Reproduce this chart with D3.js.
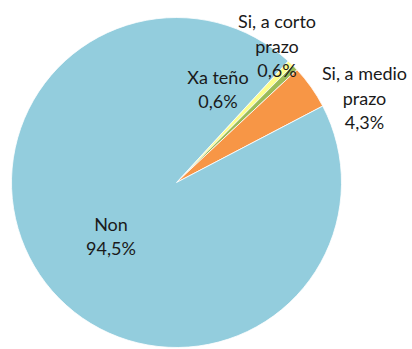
<!DOCTYPE html>
<html>
<head>
<meta charset="utf-8">
<script src="https://cdn.jsdelivr.net/npm/d3@7"></script>
<style>
  html, body { margin: 0; padding: 0; background: #fff; }
  svg { display: block; }
  text { font-family: Lato, "Liberation Sans", sans-serif; font-size: 18px; fill: #1a1a1a; }
</style>
</head>
<body>
<svg id="chart" width="412" height="349"></svg>
<script>
// Answers, in drawing order (clockwise from the first slice)
const categories = ["Xa teño", "Si, a corto prazo", "Si, a medio prazo", "Non"];
const shares = [0.6, 0.6, 4.3, 94.5];
const shareLabels = ["0,6%", "0,6%", "4,3%", "94,5%"];
const colors = ["#FFFF8C", "#9BBB59", "#F79646", "#93CDDD"];

// Label blocks: lines of each label and the offset of the block centre from the pie centre
const labelLines = [
  ["Xa teño", "0,6%"],
  ["Si, a corto", "prazo", "0,6%"],
  ["Si, a medio", "prazo", "4,3%"],
  ["Non", "94,5%"]
];
const labelOffsets = [[41.5, -93], [100.5, -136], [188, -84], [-65.5, 54]];

const width = 412, height = 349;
const cx = 176.5, cy = 182.5, radius = 165;
const startDeg = 42.6;
const lineH = 24.5;

const svg = d3.select("#chart");
const g = svg.append("g").attr("transform", `translate(${cx},${cy})`);

const pie = d3.pie()
  .sort(null)
  .value(d => d)
  .startAngle(startDeg * Math.PI / 180)
  .endAngle((startDeg + 360) * Math.PI / 180);

const arc = d3.arc().innerRadius(0).outerRadius(radius);
const arcs = pie(shares);

g.selectAll("path.slice")
  .data(arcs)
  .join("path")
  .attr("class", "slice")
  .attr("d", arc)
  .attr("fill", (d, i) => colors[i])
  .attr("stroke", "#fff")
  .attr("stroke-width", 0.8);

const labels = g.selectAll("text.lbl")
  .data(labelLines)
  .join("text")
  .attr("class", "lbl")
  .attr("text-anchor", "middle")
  .attr("x", (d, i) => labelOffsets[i][0])
  .attr("y", (d, i) => labelOffsets[i][1] - (d.length - 1) * lineH / 2);

labels.selectAll("tspan")
  .data((d, i) => d.map((t, j) => ({ t, j, x: labelOffsets[i][0] })))
  .join("tspan")
  .attr("x", d => d.x)
  .attr("dy", d => d.j === 0 ? "0.35em" : lineH)
  .text(d => d.t);
</script>
</body>
</html>
